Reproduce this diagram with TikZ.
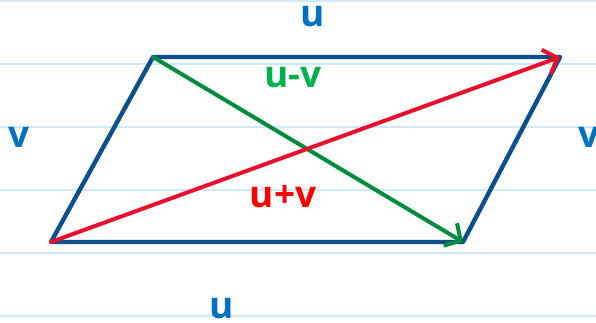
\documentclass[tikz,border=0pt]{standalone}
\usepackage{fontspec}
\setmainfont{Open Sans}
\usetikzlibrary{arrows.meta}
\definecolor{rule}{RGB}{206,234,250}
\definecolor{edgeblue}{RGB}{14,78,138}
\definecolor{textblue}{RGB}{0,112,192}
\definecolor{lgreen}{RGB}{0,140,62}
\definecolor{tgreen}{RGB}{0,176,80}
\definecolor{lred}{RGB}{232,16,46}
\definecolor{tred}{RGB}{255,0,0}
\tikzset{
  ruleline/.style={rule, line width=2pt},
  side/.style={edgeblue, line width=4.4pt, line cap=round, line join=round},
  vec/.style={line width=4pt, line cap=round, -{Straight Barb[length=12pt,width=26pt,line width=4pt]}},
  lbl/.style={inner sep=0pt, font=\fontsize{37}{40}\selectfont\bfseries},
  pt/.style={inner sep=0pt, minimum size=0pt}
}
\begin{document}
\begin{tikzpicture}[x=1pt,y=-1pt]
  \useasboundingbox (0,0) rectangle (596,323);
  \clip (0,0) rectangle (596,323);
  \fill[white] (0,0) rectangle (596,323);
  \foreach \y in {1,64,127,190,253,316} \draw[ruleline] (0,\y) -- (596,\y);
  \coordinate (A) at (51,242);
  \coordinate (B) at (463,242);
  \coordinate (C) at (560,57);
  \coordinate (D) at (153,57);
  \draw[side] (A) -- (B) -- (C) -- (D) -- cycle;
  \draw[vec, lgreen] (D) -- (B);
  \draw[vec, lred] (A) -- (C);
  \node[lbl, textblue] (utop) at (313,17) {u};
  \node[lbl, textblue] (ubot) at (222,309) {u};
  \node[lbl, textblue] (vleft) at (19,137) {v};
  \node[lbl, textblue] (vright) at (589,137) {v};
  \node[lbl, tgreen] (umv) at (293,78) {u-v};
  \node[lbl, tred] (upv) at (283,197) {u+v};
\end{tikzpicture}
\end{document}
